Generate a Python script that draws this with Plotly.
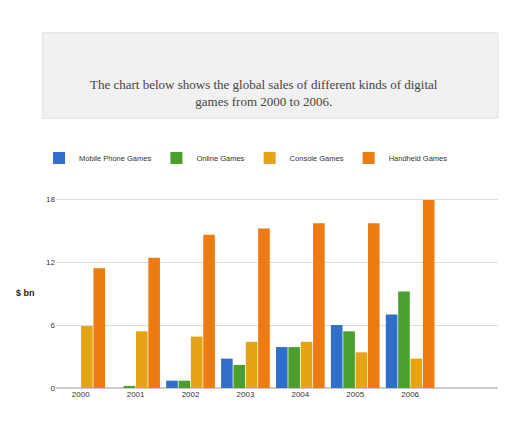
import plotly.graph_objects as go

years = ["2000", "2001", "2002", "2003", "2004", "2005", "2006"]
mobile = [0, 0, 0.7, 2.8, 3.9, 6.0, 7.0]
online = [0, 0.2, 0.7, 2.2, 3.9, 5.4, 9.2]
console = [5.9, 5.4, 4.9, 4.4, 4.4, 3.4, 2.8]
handheld = [11.4, 12.4, 14.6, 15.2, 15.7, 15.7, 17.9]
series = [("Mobile Phone Games", mobile, "#2f6fc9"),
          ("Online Games", online, "#4aa02c"),
          ("Console Games", console, "#e5a414"),
          ("Handheld Games", handheld, "#ee7a12")]

fig = go.Figure()
for name, vals, col in series:
    fig.add_trace(go.Bar(x=list(range(len(years))), y=vals, name=name,
                         marker_color=col, marker_line_width=0))
fig.update_layout(
    width=512, height=422, paper_bgcolor="white", plot_bgcolor="white",
    margin=dict(l=48, r=22, t=190, b=42),
    bargap=0.1, bargroupgap=0.06,
    font=dict(family="Liberation Sans, Arial", size=9, color="#333"),
    legend=dict(orientation="h", x=0.43, xanchor="center", y=1.21, yanchor="middle",
                font=dict(size=7.5), itemwidth=30, tracegroupgap=0),
    xaxis=dict(showgrid=False, tickfont=dict(size=8), ticks="",
               tickvals=list(range(len(years))), ticktext=years, range=[-0.45, 7.6]),
    yaxis=dict(range=[0, 18.1], tickvals=[0, 6, 12, 18], gridcolor="#ddd",
               tickfont=dict(size=8), zeroline=True, zerolinecolor="#ccc"),
    shapes=[dict(type="rect", xref="paper", yref="paper", x0=-0.03, x1=1.0,
                 y0=1.42, y1=1.87, fillcolor="#f1f1f1", line=dict(color="#e0e0e0", width=1),
                 layer="below")],
    annotations=[
        dict(text="The chart below shows the global sales of different kinds of digital<br>games from 2000 to 2006.",
             xref="paper", yref="paper", x=0.47, y=1.645, showarrow=False,
             font=dict(family="Liberation Serif, serif", size=13, color="#444")),
        dict(text="<b>$ bn</b>", xref="paper", yref="paper", x=-0.095, y=0.5,
             showarrow=False, font=dict(size=9, color="#222")),
    ],
)
fig.write_html("out.html")
